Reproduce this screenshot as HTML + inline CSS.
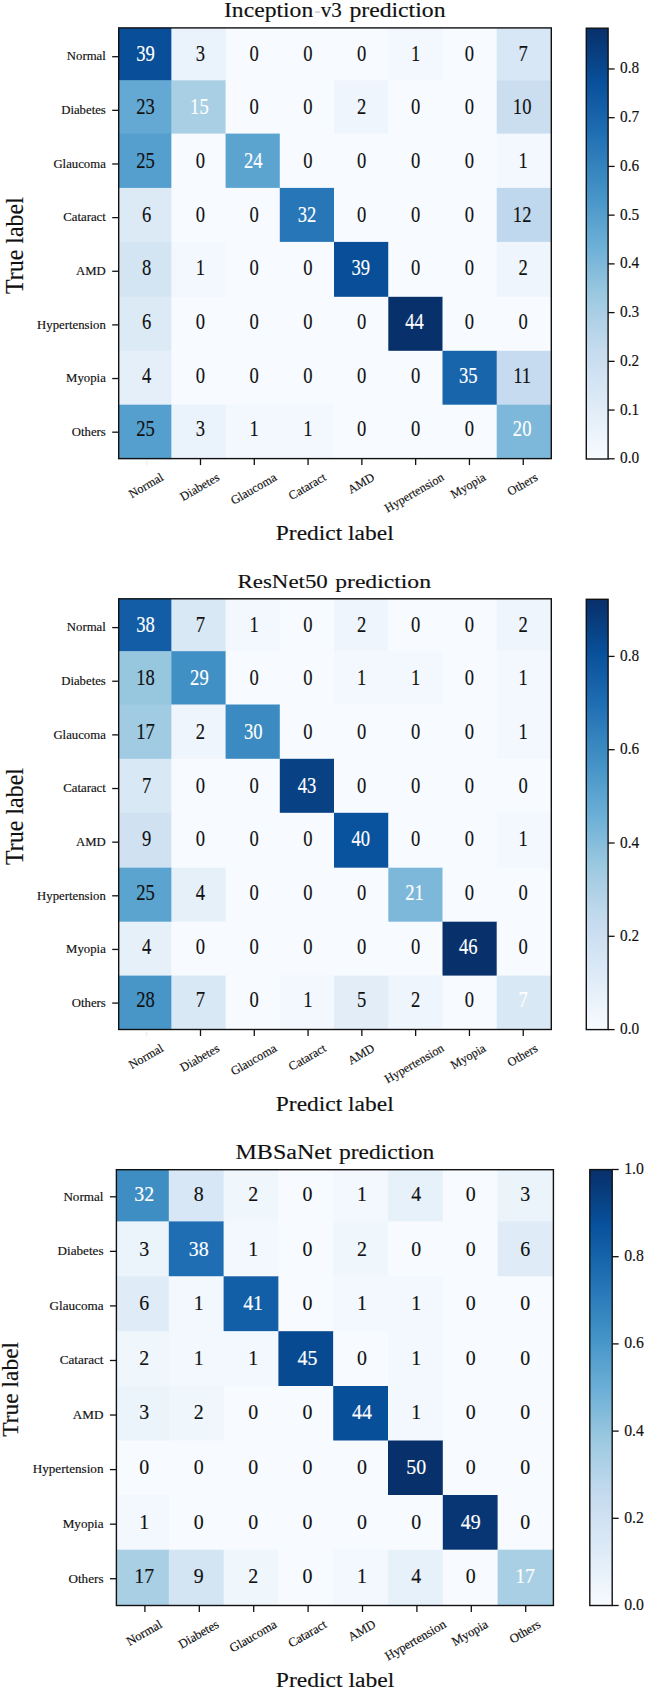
<!DOCTYPE html>
<html lang="en"><head><meta charset="utf-8"><title>Confusion matrices</title>
<style>html,body{margin:0;padding:0;background:#fff}svg{display:block}</style>
</head><body>
<svg width="645" height="1690" viewBox="0 0 645 1690" font-family="'Liberation Serif','Times New Roman',serif">
<defs>
<linearGradient id="cbg" x1="0" y1="0" x2="0" y2="1"><stop offset="0.0000" stop-color="#08306b"/><stop offset="0.0312" stop-color="#083776"/><stop offset="0.0625" stop-color="#084082"/><stop offset="0.0938" stop-color="#08488e"/><stop offset="0.1250" stop-color="#08509b"/><stop offset="0.1562" stop-color="#0e58a2"/><stop offset="0.1875" stop-color="#1460a8"/><stop offset="0.2188" stop-color="#1a68ae"/><stop offset="0.2500" stop-color="#2070b4"/><stop offset="0.2812" stop-color="#2979b9"/><stop offset="0.3125" stop-color="#3181bd"/><stop offset="0.3438" stop-color="#3989c1"/><stop offset="0.3750" stop-color="#4191c6"/><stop offset="0.4062" stop-color="#4b98ca"/><stop offset="0.4375" stop-color="#56a0ce"/><stop offset="0.4688" stop-color="#60a7d2"/><stop offset="0.5000" stop-color="#6aaed6"/><stop offset="0.5312" stop-color="#77b5d9"/><stop offset="0.5625" stop-color="#84bcdb"/><stop offset="0.5938" stop-color="#91c3de"/><stop offset="0.6250" stop-color="#9dcae1"/><stop offset="0.6562" stop-color="#a8cee4"/><stop offset="0.6875" stop-color="#b2d2e8"/><stop offset="0.7188" stop-color="#bcd7eb"/><stop offset="0.7500" stop-color="#c6dbef"/><stop offset="0.7812" stop-color="#ccdff1"/><stop offset="0.8125" stop-color="#d2e3f3"/><stop offset="0.8438" stop-color="#d8e7f5"/><stop offset="0.8750" stop-color="#deebf7"/><stop offset="0.9062" stop-color="#e4eff9"/><stop offset="0.9375" stop-color="#eaf3fb"/><stop offset="0.9688" stop-color="#f1f7fd"/><stop offset="1.0000" stop-color="#f7fbff"/></linearGradient>
</defs>
<rect width="645" height="1690" fill="#fff"/>
<g>
<rect x="118.70" y="27.90" width="53.20" height="52.90" fill="#084e98"/>
<rect x="171.40" y="27.90" width="54.70" height="52.90" fill="#eaf2fb"/>
<rect x="225.60" y="27.90" width="54.70" height="52.90" fill="#f7fbff"/>
<rect x="279.80" y="27.90" width="54.70" height="52.90" fill="#f7fbff"/>
<rect x="334.00" y="27.90" width="54.80" height="52.90" fill="#f7fbff"/>
<rect x="388.30" y="27.90" width="54.70" height="52.90" fill="#f3f8fe"/>
<rect x="442.50" y="27.90" width="54.70" height="52.90" fill="#f7fbff"/>
<rect x="496.70" y="27.90" width="55.10" height="52.90" fill="#d8e7f5"/>
<rect x="118.70" y="80.30" width="53.20" height="53.80" fill="#64a9d3"/>
<rect x="171.40" y="80.30" width="54.70" height="53.80" fill="#a9cfe5"/>
<rect x="225.60" y="80.30" width="54.70" height="53.80" fill="#f7fbff"/>
<rect x="279.80" y="80.30" width="54.70" height="53.80" fill="#f7fbff"/>
<rect x="334.00" y="80.30" width="54.80" height="53.80" fill="#eef5fc"/>
<rect x="388.30" y="80.30" width="54.70" height="53.80" fill="#f7fbff"/>
<rect x="442.50" y="80.30" width="54.70" height="53.80" fill="#f7fbff"/>
<rect x="496.70" y="80.30" width="55.10" height="53.80" fill="#cadef0"/>
<rect x="118.70" y="133.60" width="53.20" height="54.80" fill="#549fcd"/>
<rect x="171.40" y="133.60" width="54.70" height="54.80" fill="#f7fbff"/>
<rect x="225.60" y="133.60" width="54.70" height="54.80" fill="#5ca4d0"/>
<rect x="279.80" y="133.60" width="54.70" height="54.80" fill="#f7fbff"/>
<rect x="334.00" y="133.60" width="54.80" height="54.80" fill="#f7fbff"/>
<rect x="388.30" y="133.60" width="54.70" height="54.80" fill="#f7fbff"/>
<rect x="442.50" y="133.60" width="54.70" height="54.80" fill="#f7fbff"/>
<rect x="496.70" y="133.60" width="55.10" height="54.80" fill="#f3f8fe"/>
<rect x="118.70" y="187.90" width="53.20" height="54.50" fill="#dceaf6"/>
<rect x="171.40" y="187.90" width="54.70" height="54.50" fill="#f7fbff"/>
<rect x="225.60" y="187.90" width="54.70" height="54.50" fill="#f7fbff"/>
<rect x="279.80" y="187.90" width="54.70" height="54.50" fill="#2676b8"/>
<rect x="334.00" y="187.90" width="54.80" height="54.50" fill="#f7fbff"/>
<rect x="388.30" y="187.90" width="54.70" height="54.50" fill="#f7fbff"/>
<rect x="442.50" y="187.90" width="54.70" height="54.50" fill="#f7fbff"/>
<rect x="496.70" y="187.90" width="55.10" height="54.50" fill="#bfd8ed"/>
<rect x="118.70" y="241.90" width="53.20" height="55.40" fill="#d3e4f3"/>
<rect x="171.40" y="241.90" width="54.70" height="55.40" fill="#f3f8fe"/>
<rect x="225.60" y="241.90" width="54.70" height="55.40" fill="#f7fbff"/>
<rect x="279.80" y="241.90" width="54.70" height="55.40" fill="#f7fbff"/>
<rect x="334.00" y="241.90" width="54.80" height="55.40" fill="#084e98"/>
<rect x="388.30" y="241.90" width="54.70" height="55.40" fill="#f7fbff"/>
<rect x="442.50" y="241.90" width="54.70" height="55.40" fill="#f7fbff"/>
<rect x="496.70" y="241.90" width="55.10" height="55.40" fill="#eef5fc"/>
<rect x="118.70" y="296.80" width="53.20" height="54.50" fill="#dceaf6"/>
<rect x="171.40" y="296.80" width="54.70" height="54.50" fill="#f7fbff"/>
<rect x="225.60" y="296.80" width="54.70" height="54.50" fill="#f7fbff"/>
<rect x="279.80" y="296.80" width="54.70" height="54.50" fill="#f7fbff"/>
<rect x="334.00" y="296.80" width="54.80" height="54.50" fill="#f7fbff"/>
<rect x="388.30" y="296.80" width="54.70" height="54.50" fill="#08306b"/>
<rect x="442.50" y="296.80" width="54.70" height="54.50" fill="#f7fbff"/>
<rect x="496.70" y="296.80" width="55.10" height="54.50" fill="#f7fbff"/>
<rect x="118.70" y="350.80" width="53.20" height="54.40" fill="#e5eff9"/>
<rect x="171.40" y="350.80" width="54.70" height="54.40" fill="#f7fbff"/>
<rect x="225.60" y="350.80" width="54.70" height="54.40" fill="#f7fbff"/>
<rect x="279.80" y="350.80" width="54.70" height="54.40" fill="#f7fbff"/>
<rect x="334.00" y="350.80" width="54.80" height="54.40" fill="#f7fbff"/>
<rect x="388.30" y="350.80" width="54.70" height="54.40" fill="#f7fbff"/>
<rect x="442.50" y="350.80" width="54.70" height="54.40" fill="#1865ac"/>
<rect x="496.70" y="350.80" width="55.10" height="54.40" fill="#c6dbef"/>
<rect x="118.70" y="404.70" width="53.20" height="54.40" fill="#549fcd"/>
<rect x="171.40" y="404.70" width="54.70" height="54.40" fill="#eaf2fb"/>
<rect x="225.60" y="404.70" width="54.70" height="54.40" fill="#f3f8fe"/>
<rect x="279.80" y="404.70" width="54.70" height="54.40" fill="#f3f8fe"/>
<rect x="334.00" y="404.70" width="54.80" height="54.40" fill="#f7fbff"/>
<rect x="388.30" y="404.70" width="54.70" height="54.40" fill="#f7fbff"/>
<rect x="442.50" y="404.70" width="54.70" height="54.40" fill="#f7fbff"/>
<rect x="496.70" y="404.70" width="55.10" height="54.40" fill="#7db8da"/>
</g>
<rect x="118.70" y="27.90" width="432.60" height="430.70" fill="none" stroke="#111" stroke-width="1.40"/>
<text transform="translate(145.60,60.80) scale(0.8300,1)" font-size="22.40" fill="#fff" text-anchor="middle" stroke="#fff" stroke-width="0.15">39</text>
<text transform="translate(200.39,60.80) scale(0.8300,1)" font-size="22.40" fill="#111" text-anchor="middle" stroke="#111" stroke-width="0.15">3</text>
<text transform="translate(254.18,60.80) scale(0.8300,1)" font-size="22.40" fill="#111" text-anchor="middle" stroke="#111" stroke-width="0.15">0</text>
<text transform="translate(307.97,60.80) scale(0.8300,1)" font-size="22.40" fill="#111" text-anchor="middle" stroke="#111" stroke-width="0.15">0</text>
<text transform="translate(361.76,60.80) scale(0.8300,1)" font-size="22.40" fill="#111" text-anchor="middle" stroke="#111" stroke-width="0.15">0</text>
<text transform="translate(415.55,60.80) scale(0.8300,1)" font-size="22.40" fill="#111" text-anchor="middle" stroke="#111" stroke-width="0.15">1</text>
<text transform="translate(469.34,60.80) scale(0.8300,1)" font-size="22.40" fill="#111" text-anchor="middle" stroke="#111" stroke-width="0.15">0</text>
<text transform="translate(523.13,60.80) scale(0.8300,1)" font-size="22.40" fill="#111" text-anchor="middle" stroke="#111" stroke-width="0.15">7</text>
<text transform="translate(145.60,114.44) scale(0.8300,1)" font-size="22.40" fill="#111" text-anchor="middle" stroke="#111" stroke-width="0.15">23</text>
<text transform="translate(199.39,114.44) scale(0.8300,1)" font-size="22.40" fill="#fff" text-anchor="middle" stroke="#fff" stroke-width="0.15">15</text>
<text transform="translate(254.18,114.44) scale(0.8300,1)" font-size="22.40" fill="#111" text-anchor="middle" stroke="#111" stroke-width="0.15">0</text>
<text transform="translate(307.97,114.44) scale(0.8300,1)" font-size="22.40" fill="#111" text-anchor="middle" stroke="#111" stroke-width="0.15">0</text>
<text transform="translate(361.76,114.44) scale(0.8300,1)" font-size="22.40" fill="#111" text-anchor="middle" stroke="#111" stroke-width="0.15">2</text>
<text transform="translate(415.55,114.44) scale(0.8300,1)" font-size="22.40" fill="#111" text-anchor="middle" stroke="#111" stroke-width="0.15">0</text>
<text transform="translate(469.34,114.44) scale(0.8300,1)" font-size="22.40" fill="#111" text-anchor="middle" stroke="#111" stroke-width="0.15">0</text>
<text transform="translate(522.13,114.44) scale(0.8300,1)" font-size="22.40" fill="#111" text-anchor="middle" stroke="#111" stroke-width="0.15">10</text>
<text transform="translate(145.60,168.08) scale(0.8300,1)" font-size="22.40" fill="#111" text-anchor="middle" stroke="#111" stroke-width="0.15">25</text>
<text transform="translate(200.39,168.08) scale(0.8300,1)" font-size="22.40" fill="#111" text-anchor="middle" stroke="#111" stroke-width="0.15">0</text>
<text transform="translate(253.18,168.08) scale(0.8300,1)" font-size="22.40" fill="#fff" text-anchor="middle" stroke="#fff" stroke-width="0.15">24</text>
<text transform="translate(307.97,168.08) scale(0.8300,1)" font-size="22.40" fill="#111" text-anchor="middle" stroke="#111" stroke-width="0.15">0</text>
<text transform="translate(361.76,168.08) scale(0.8300,1)" font-size="22.40" fill="#111" text-anchor="middle" stroke="#111" stroke-width="0.15">0</text>
<text transform="translate(415.55,168.08) scale(0.8300,1)" font-size="22.40" fill="#111" text-anchor="middle" stroke="#111" stroke-width="0.15">0</text>
<text transform="translate(469.34,168.08) scale(0.8300,1)" font-size="22.40" fill="#111" text-anchor="middle" stroke="#111" stroke-width="0.15">0</text>
<text transform="translate(523.13,168.08) scale(0.8300,1)" font-size="22.40" fill="#111" text-anchor="middle" stroke="#111" stroke-width="0.15">1</text>
<text transform="translate(146.60,221.72) scale(0.8300,1)" font-size="22.40" fill="#111" text-anchor="middle" stroke="#111" stroke-width="0.15">6</text>
<text transform="translate(200.39,221.72) scale(0.8300,1)" font-size="22.40" fill="#111" text-anchor="middle" stroke="#111" stroke-width="0.15">0</text>
<text transform="translate(254.18,221.72) scale(0.8300,1)" font-size="22.40" fill="#111" text-anchor="middle" stroke="#111" stroke-width="0.15">0</text>
<text transform="translate(306.97,221.72) scale(0.8300,1)" font-size="22.40" fill="#fff" text-anchor="middle" stroke="#fff" stroke-width="0.15">32</text>
<text transform="translate(361.76,221.72) scale(0.8300,1)" font-size="22.40" fill="#111" text-anchor="middle" stroke="#111" stroke-width="0.15">0</text>
<text transform="translate(415.55,221.72) scale(0.8300,1)" font-size="22.40" fill="#111" text-anchor="middle" stroke="#111" stroke-width="0.15">0</text>
<text transform="translate(469.34,221.72) scale(0.8300,1)" font-size="22.40" fill="#111" text-anchor="middle" stroke="#111" stroke-width="0.15">0</text>
<text transform="translate(522.13,221.72) scale(0.8300,1)" font-size="22.40" fill="#111" text-anchor="middle" stroke="#111" stroke-width="0.15">12</text>
<text transform="translate(146.60,275.36) scale(0.8300,1)" font-size="22.40" fill="#111" text-anchor="middle" stroke="#111" stroke-width="0.15">8</text>
<text transform="translate(200.39,275.36) scale(0.8300,1)" font-size="22.40" fill="#111" text-anchor="middle" stroke="#111" stroke-width="0.15">1</text>
<text transform="translate(254.18,275.36) scale(0.8300,1)" font-size="22.40" fill="#111" text-anchor="middle" stroke="#111" stroke-width="0.15">0</text>
<text transform="translate(307.97,275.36) scale(0.8300,1)" font-size="22.40" fill="#111" text-anchor="middle" stroke="#111" stroke-width="0.15">0</text>
<text transform="translate(360.76,275.36) scale(0.8300,1)" font-size="22.40" fill="#fff" text-anchor="middle" stroke="#fff" stroke-width="0.15">39</text>
<text transform="translate(415.55,275.36) scale(0.8300,1)" font-size="22.40" fill="#111" text-anchor="middle" stroke="#111" stroke-width="0.15">0</text>
<text transform="translate(469.34,275.36) scale(0.8300,1)" font-size="22.40" fill="#111" text-anchor="middle" stroke="#111" stroke-width="0.15">0</text>
<text transform="translate(523.13,275.36) scale(0.8300,1)" font-size="22.40" fill="#111" text-anchor="middle" stroke="#111" stroke-width="0.15">2</text>
<text transform="translate(146.60,329.00) scale(0.8300,1)" font-size="22.40" fill="#111" text-anchor="middle" stroke="#111" stroke-width="0.15">6</text>
<text transform="translate(200.39,329.00) scale(0.8300,1)" font-size="22.40" fill="#111" text-anchor="middle" stroke="#111" stroke-width="0.15">0</text>
<text transform="translate(254.18,329.00) scale(0.8300,1)" font-size="22.40" fill="#111" text-anchor="middle" stroke="#111" stroke-width="0.15">0</text>
<text transform="translate(307.97,329.00) scale(0.8300,1)" font-size="22.40" fill="#111" text-anchor="middle" stroke="#111" stroke-width="0.15">0</text>
<text transform="translate(361.76,329.00) scale(0.8300,1)" font-size="22.40" fill="#111" text-anchor="middle" stroke="#111" stroke-width="0.15">0</text>
<text transform="translate(414.55,329.00) scale(0.8300,1)" font-size="22.40" fill="#fff" text-anchor="middle" stroke="#fff" stroke-width="0.15">44</text>
<text transform="translate(469.34,329.00) scale(0.8300,1)" font-size="22.40" fill="#111" text-anchor="middle" stroke="#111" stroke-width="0.15">0</text>
<text transform="translate(523.13,329.00) scale(0.8300,1)" font-size="22.40" fill="#111" text-anchor="middle" stroke="#111" stroke-width="0.15">0</text>
<text transform="translate(146.60,382.64) scale(0.8300,1)" font-size="22.40" fill="#111" text-anchor="middle" stroke="#111" stroke-width="0.15">4</text>
<text transform="translate(200.39,382.64) scale(0.8300,1)" font-size="22.40" fill="#111" text-anchor="middle" stroke="#111" stroke-width="0.15">0</text>
<text transform="translate(254.18,382.64) scale(0.8300,1)" font-size="22.40" fill="#111" text-anchor="middle" stroke="#111" stroke-width="0.15">0</text>
<text transform="translate(307.97,382.64) scale(0.8300,1)" font-size="22.40" fill="#111" text-anchor="middle" stroke="#111" stroke-width="0.15">0</text>
<text transform="translate(361.76,382.64) scale(0.8300,1)" font-size="22.40" fill="#111" text-anchor="middle" stroke="#111" stroke-width="0.15">0</text>
<text transform="translate(415.55,382.64) scale(0.8300,1)" font-size="22.40" fill="#111" text-anchor="middle" stroke="#111" stroke-width="0.15">0</text>
<text transform="translate(468.34,382.64) scale(0.8300,1)" font-size="22.40" fill="#fff" text-anchor="middle" stroke="#fff" stroke-width="0.15">35</text>
<text transform="translate(522.13,382.64) scale(0.8300,1)" font-size="22.40" fill="#111" text-anchor="middle" stroke="#111" stroke-width="0.15">11</text>
<text transform="translate(145.60,436.28) scale(0.8300,1)" font-size="22.40" fill="#111" text-anchor="middle" stroke="#111" stroke-width="0.15">25</text>
<text transform="translate(200.39,436.28) scale(0.8300,1)" font-size="22.40" fill="#111" text-anchor="middle" stroke="#111" stroke-width="0.15">3</text>
<text transform="translate(254.18,436.28) scale(0.8300,1)" font-size="22.40" fill="#111" text-anchor="middle" stroke="#111" stroke-width="0.15">1</text>
<text transform="translate(307.97,436.28) scale(0.8300,1)" font-size="22.40" fill="#111" text-anchor="middle" stroke="#111" stroke-width="0.15">1</text>
<text transform="translate(361.76,436.28) scale(0.8300,1)" font-size="22.40" fill="#111" text-anchor="middle" stroke="#111" stroke-width="0.15">0</text>
<text transform="translate(415.55,436.28) scale(0.8300,1)" font-size="22.40" fill="#111" text-anchor="middle" stroke="#111" stroke-width="0.15">0</text>
<text transform="translate(469.34,436.28) scale(0.8300,1)" font-size="22.40" fill="#111" text-anchor="middle" stroke="#111" stroke-width="0.15">0</text>
<text transform="translate(522.13,436.28) scale(0.8300,1)" font-size="22.40" fill="#fff" text-anchor="middle" stroke="#fff" stroke-width="0.15">20</text>
<line x1="146.70" y1="461.10" x2="146.70" y2="465.10" stroke="#ececec" stroke-width="1.3"/>
<line x1="112.20" y1="56.70" x2="118.70" y2="56.70" stroke="#111" stroke-width="1.30"/>
<text transform="translate(105.80,60.48) scale(1.1000,1)" font-size="11.60" fill="#111" text-anchor="end" stroke="#111" stroke-width="0.15">Normal</text>
<g transform="translate(145.90,485.51) scale(1,1.000) rotate(-30)"><text y="4.06" font-size="12.30" text-anchor="middle" fill="#111" stroke="#111" stroke-width="0.15">Normal</text></g>
<line x1="200.49" y1="458.60" x2="200.49" y2="465.10" stroke="#111" stroke-width="1.30"/>
<line x1="112.20" y1="110.34" x2="118.70" y2="110.34" stroke="#111" stroke-width="1.30"/>
<text transform="translate(105.80,114.12) scale(1.1000,1)" font-size="11.60" fill="#111" text-anchor="end" stroke="#111" stroke-width="0.15">Diabetes</text>
<g transform="translate(199.69,486.88) scale(1,1.000) rotate(-30)"><text y="4.06" font-size="12.30" text-anchor="middle" fill="#111" stroke="#111" stroke-width="0.15">Diabetes</text></g>
<line x1="254.28" y1="458.60" x2="254.28" y2="465.10" stroke="#111" stroke-width="1.30"/>
<line x1="112.20" y1="163.98" x2="118.70" y2="163.98" stroke="#111" stroke-width="1.30"/>
<text transform="translate(105.80,167.76) scale(1.1000,1)" font-size="11.60" fill="#111" text-anchor="end" stroke="#111" stroke-width="0.15">Glaucoma</text>
<g transform="translate(253.48,488.76) scale(1,1.000) rotate(-30)"><text y="4.06" font-size="12.30" text-anchor="middle" fill="#111" stroke="#111" stroke-width="0.15">Glaucoma</text></g>
<line x1="308.07" y1="458.60" x2="308.07" y2="465.10" stroke="#111" stroke-width="1.30"/>
<line x1="112.20" y1="217.62" x2="118.70" y2="217.62" stroke="#111" stroke-width="1.30"/>
<text transform="translate(105.80,221.40) scale(1.1000,1)" font-size="11.60" fill="#111" text-anchor="end" stroke="#111" stroke-width="0.15">Cataract</text>
<g transform="translate(307.27,486.37) scale(1,1.000) rotate(-30)"><text y="4.06" font-size="12.30" text-anchor="middle" fill="#111" stroke="#111" stroke-width="0.15">Cataract</text></g>
<line x1="361.86" y1="458.60" x2="361.86" y2="465.10" stroke="#111" stroke-width="1.30"/>
<line x1="112.20" y1="271.26" x2="118.70" y2="271.26" stroke="#111" stroke-width="1.30"/>
<text transform="translate(105.80,275.04) scale(1.1000,1)" font-size="11.60" fill="#111" text-anchor="end" stroke="#111" stroke-width="0.15">AMD</text>
<g transform="translate(361.06,483.30) scale(1,1.000) rotate(-30)"><text y="4.06" font-size="12.30" text-anchor="middle" fill="#111" stroke="#111" stroke-width="0.15">AMD</text></g>
<line x1="415.65" y1="458.60" x2="415.65" y2="465.10" stroke="#111" stroke-width="1.30"/>
<line x1="112.20" y1="324.90" x2="118.70" y2="324.90" stroke="#111" stroke-width="1.30"/>
<text transform="translate(105.80,328.68) scale(1.1000,1)" font-size="11.60" fill="#111" text-anchor="end" stroke="#111" stroke-width="0.15">Hypertension</text>
<g transform="translate(414.85,493.75) scale(1,1.000) rotate(-30)"><text y="2.71" font-size="12.30" text-anchor="middle" fill="#111" stroke="#111" stroke-width="0.15">Hypertension</text></g>
<line x1="469.44" y1="458.60" x2="469.44" y2="465.10" stroke="#111" stroke-width="1.30"/>
<line x1="112.20" y1="378.54" x2="118.70" y2="378.54" stroke="#111" stroke-width="1.30"/>
<text transform="translate(105.80,382.32) scale(1.1000,1)" font-size="11.60" fill="#111" text-anchor="end" stroke="#111" stroke-width="0.15">Myopia</text>
<g transform="translate(468.64,486.75) scale(1,1.000) rotate(-30)"><text y="2.71" font-size="12.30" text-anchor="middle" fill="#111" stroke="#111" stroke-width="0.15">Myopia</text></g>
<line x1="523.23" y1="458.60" x2="523.23" y2="465.10" stroke="#111" stroke-width="1.30"/>
<line x1="112.20" y1="432.18" x2="118.70" y2="432.18" stroke="#111" stroke-width="1.30"/>
<text transform="translate(105.80,435.96) scale(1.1000,1)" font-size="11.60" fill="#111" text-anchor="end" stroke="#111" stroke-width="0.15">Others</text>
<g transform="translate(522.43,484.32) scale(1,1.000) rotate(-30)"><text y="4.06" font-size="12.30" text-anchor="middle" fill="#111" stroke="#111" stroke-width="0.15">Others</text></g>
<text transform="translate(224.00,17.20)" font-size="20.00" fill="#111" stroke="#111" stroke-width="0.15" textLength="89.20" lengthAdjust="spacingAndGlyphs">Inception</text>
<text transform="translate(314.60,17.20)" font-size="20.00" fill="#cfcfcf" textLength="6.00" lengthAdjust="spacingAndGlyphs">-</text>
<text transform="translate(320.80,17.20)" font-size="20.00" fill="#111" stroke="#111" stroke-width="0.15" textLength="21.00" lengthAdjust="spacingAndGlyphs">v3</text>
<text transform="translate(349.40,17.20)" font-size="20.00" fill="#111" stroke="#111" stroke-width="0.15" textLength="96.10" lengthAdjust="spacingAndGlyphs">prediction</text>
<text transform="translate(275.80,540.20)" font-size="20.00" fill="#111" stroke="#111" stroke-width="0.15" textLength="117.90" lengthAdjust="spacingAndGlyphs">Predict label</text>
<text transform="translate(23.30,294.00) rotate(-90)" font-size="25.00" fill="#111" stroke="#111" stroke-width="0.15" textLength="96.80" lengthAdjust="spacingAndGlyphs">True label</text>
<rect x="586.30" y="28.20" width="21.80" height="430.80" fill="url(#cbg)" stroke="#111" stroke-width="1.40"/>
<line x1="608.10" y1="458.80" x2="614.60" y2="458.80" stroke="#111" stroke-width="1.30"/>
<text transform="translate(620.10,463.30) scale(0.9700,1)" font-size="15.80" fill="#111" stroke="#111" stroke-width="0.15">0.0</text>
<line x1="608.10" y1="410.07" x2="614.60" y2="410.07" stroke="#111" stroke-width="1.30"/>
<text transform="translate(620.10,414.57) scale(0.9700,1)" font-size="15.80" fill="#111" stroke="#111" stroke-width="0.15">0.1</text>
<line x1="608.10" y1="361.34" x2="614.60" y2="361.34" stroke="#111" stroke-width="1.30"/>
<text transform="translate(620.10,365.84) scale(0.9700,1)" font-size="15.80" fill="#111" stroke="#111" stroke-width="0.15">0.2</text>
<line x1="608.10" y1="312.61" x2="614.60" y2="312.61" stroke="#111" stroke-width="1.30"/>
<text transform="translate(620.10,317.11) scale(0.9700,1)" font-size="15.80" fill="#111" stroke="#111" stroke-width="0.15">0.3</text>
<line x1="608.10" y1="263.88" x2="614.60" y2="263.88" stroke="#111" stroke-width="1.30"/>
<text transform="translate(620.10,268.38) scale(0.9700,1)" font-size="15.80" fill="#111" stroke="#111" stroke-width="0.15">0.4</text>
<line x1="608.10" y1="215.15" x2="614.60" y2="215.15" stroke="#111" stroke-width="1.30"/>
<text transform="translate(620.10,219.65) scale(0.9700,1)" font-size="15.80" fill="#111" stroke="#111" stroke-width="0.15">0.5</text>
<line x1="608.10" y1="166.42" x2="614.60" y2="166.42" stroke="#111" stroke-width="1.30"/>
<text transform="translate(620.10,170.92) scale(0.9700,1)" font-size="15.80" fill="#111" stroke="#111" stroke-width="0.15">0.6</text>
<line x1="608.10" y1="117.69" x2="614.60" y2="117.69" stroke="#111" stroke-width="1.30"/>
<text transform="translate(620.10,122.19) scale(0.9700,1)" font-size="15.80" fill="#111" stroke="#111" stroke-width="0.15">0.7</text>
<line x1="608.10" y1="68.96" x2="614.60" y2="68.96" stroke="#111" stroke-width="1.30"/>
<text transform="translate(620.10,73.46) scale(0.9700,1)" font-size="15.80" fill="#111" stroke="#111" stroke-width="0.15">0.8</text>
<g>
<rect x="118.70" y="598.80" width="53.20" height="52.90" fill="#125da6"/>
<rect x="171.40" y="598.80" width="54.70" height="52.90" fill="#d9e8f5"/>
<rect x="225.60" y="598.80" width="54.70" height="52.90" fill="#f3f8fe"/>
<rect x="279.80" y="598.80" width="54.70" height="52.90" fill="#f7fbff"/>
<rect x="334.00" y="598.80" width="54.80" height="52.90" fill="#eef5fc"/>
<rect x="388.30" y="598.80" width="54.70" height="52.90" fill="#f7fbff"/>
<rect x="442.50" y="598.80" width="54.70" height="52.90" fill="#f7fbff"/>
<rect x="496.70" y="598.80" width="55.10" height="52.90" fill="#eef5fc"/>
<rect x="118.70" y="651.20" width="53.20" height="53.80" fill="#97c6df"/>
<rect x="171.40" y="651.20" width="54.70" height="53.80" fill="#4090c5"/>
<rect x="225.60" y="651.20" width="54.70" height="53.80" fill="#f7fbff"/>
<rect x="279.80" y="651.20" width="54.70" height="53.80" fill="#f7fbff"/>
<rect x="334.00" y="651.20" width="54.80" height="53.80" fill="#f3f8fe"/>
<rect x="388.30" y="651.20" width="54.70" height="53.80" fill="#f3f8fe"/>
<rect x="442.50" y="651.20" width="54.70" height="53.80" fill="#f7fbff"/>
<rect x="496.70" y="651.20" width="55.10" height="53.80" fill="#f3f8fe"/>
<rect x="118.70" y="704.50" width="53.20" height="54.80" fill="#a0cbe2"/>
<rect x="171.40" y="704.50" width="54.70" height="54.80" fill="#eef5fc"/>
<rect x="225.60" y="704.50" width="54.70" height="54.80" fill="#3b8bc2"/>
<rect x="279.80" y="704.50" width="54.70" height="54.80" fill="#f7fbff"/>
<rect x="334.00" y="704.50" width="54.80" height="54.80" fill="#f7fbff"/>
<rect x="388.30" y="704.50" width="54.70" height="54.80" fill="#f7fbff"/>
<rect x="442.50" y="704.50" width="54.70" height="54.80" fill="#f7fbff"/>
<rect x="496.70" y="704.50" width="55.10" height="54.80" fill="#f3f8fe"/>
<rect x="118.70" y="758.80" width="53.20" height="54.50" fill="#d9e8f5"/>
<rect x="171.40" y="758.80" width="54.70" height="54.50" fill="#f7fbff"/>
<rect x="225.60" y="758.80" width="54.70" height="54.50" fill="#f7fbff"/>
<rect x="279.80" y="758.80" width="54.70" height="54.50" fill="#084184"/>
<rect x="334.00" y="758.80" width="54.80" height="54.50" fill="#f7fbff"/>
<rect x="388.30" y="758.80" width="54.70" height="54.50" fill="#f7fbff"/>
<rect x="442.50" y="758.80" width="54.70" height="54.50" fill="#f7fbff"/>
<rect x="496.70" y="758.80" width="55.10" height="54.50" fill="#f7fbff"/>
<rect x="118.70" y="812.80" width="53.20" height="55.40" fill="#d0e2f2"/>
<rect x="171.40" y="812.80" width="54.70" height="55.40" fill="#f7fbff"/>
<rect x="225.60" y="812.80" width="54.70" height="55.40" fill="#f7fbff"/>
<rect x="279.80" y="812.80" width="54.70" height="55.40" fill="#f7fbff"/>
<rect x="334.00" y="812.80" width="54.80" height="55.40" fill="#09529d"/>
<rect x="388.30" y="812.80" width="54.70" height="55.40" fill="#f7fbff"/>
<rect x="442.50" y="812.80" width="54.70" height="55.40" fill="#f7fbff"/>
<rect x="496.70" y="812.80" width="55.10" height="55.40" fill="#f3f8fe"/>
<rect x="118.70" y="867.70" width="53.20" height="54.50" fill="#5ca4d0"/>
<rect x="171.40" y="867.70" width="54.70" height="54.50" fill="#e6f0f9"/>
<rect x="225.60" y="867.70" width="54.70" height="54.50" fill="#f7fbff"/>
<rect x="279.80" y="867.70" width="54.70" height="54.50" fill="#f7fbff"/>
<rect x="334.00" y="867.70" width="54.80" height="54.50" fill="#f7fbff"/>
<rect x="388.30" y="867.70" width="54.70" height="54.50" fill="#7db8da"/>
<rect x="442.50" y="867.70" width="54.70" height="54.50" fill="#f7fbff"/>
<rect x="496.70" y="867.70" width="55.10" height="54.50" fill="#f7fbff"/>
<rect x="118.70" y="921.70" width="53.20" height="54.40" fill="#e6f0f9"/>
<rect x="171.40" y="921.70" width="54.70" height="54.40" fill="#f7fbff"/>
<rect x="225.60" y="921.70" width="54.70" height="54.40" fill="#f7fbff"/>
<rect x="279.80" y="921.70" width="54.70" height="54.40" fill="#f7fbff"/>
<rect x="334.00" y="921.70" width="54.80" height="54.40" fill="#f7fbff"/>
<rect x="388.30" y="921.70" width="54.70" height="54.40" fill="#f7fbff"/>
<rect x="442.50" y="921.70" width="54.70" height="54.40" fill="#08306b"/>
<rect x="496.70" y="921.70" width="55.10" height="54.40" fill="#f7fbff"/>
<rect x="118.70" y="975.60" width="53.20" height="54.40" fill="#4896c8"/>
<rect x="171.40" y="975.60" width="54.70" height="54.40" fill="#d9e8f5"/>
<rect x="225.60" y="975.60" width="54.70" height="54.40" fill="#f7fbff"/>
<rect x="279.80" y="975.60" width="54.70" height="54.40" fill="#f3f8fe"/>
<rect x="334.00" y="975.60" width="54.80" height="54.40" fill="#e2edf8"/>
<rect x="388.30" y="975.60" width="54.70" height="54.40" fill="#eef5fc"/>
<rect x="442.50" y="975.60" width="54.70" height="54.40" fill="#f7fbff"/>
<rect x="496.70" y="975.60" width="55.10" height="54.40" fill="#d9e8f5"/>
</g>
<rect x="118.70" y="598.80" width="432.60" height="430.70" fill="none" stroke="#111" stroke-width="1.40"/>
<text transform="translate(145.60,631.70) scale(0.8300,1)" font-size="22.40" fill="#fff" text-anchor="middle" stroke="#fff" stroke-width="0.15">38</text>
<text transform="translate(200.39,631.70) scale(0.8300,1)" font-size="22.40" fill="#111" text-anchor="middle" stroke="#111" stroke-width="0.15">7</text>
<text transform="translate(254.18,631.70) scale(0.8300,1)" font-size="22.40" fill="#111" text-anchor="middle" stroke="#111" stroke-width="0.15">1</text>
<text transform="translate(307.97,631.70) scale(0.8300,1)" font-size="22.40" fill="#111" text-anchor="middle" stroke="#111" stroke-width="0.15">0</text>
<text transform="translate(361.76,631.70) scale(0.8300,1)" font-size="22.40" fill="#111" text-anchor="middle" stroke="#111" stroke-width="0.15">2</text>
<text transform="translate(415.55,631.70) scale(0.8300,1)" font-size="22.40" fill="#111" text-anchor="middle" stroke="#111" stroke-width="0.15">0</text>
<text transform="translate(469.34,631.70) scale(0.8300,1)" font-size="22.40" fill="#111" text-anchor="middle" stroke="#111" stroke-width="0.15">0</text>
<text transform="translate(523.13,631.70) scale(0.8300,1)" font-size="22.40" fill="#111" text-anchor="middle" stroke="#111" stroke-width="0.15">2</text>
<text transform="translate(145.60,685.34) scale(0.8300,1)" font-size="22.40" fill="#111" text-anchor="middle" stroke="#111" stroke-width="0.15">18</text>
<text transform="translate(199.39,685.34) scale(0.8300,1)" font-size="22.40" fill="#fff" text-anchor="middle" stroke="#fff" stroke-width="0.15">29</text>
<text transform="translate(254.18,685.34) scale(0.8300,1)" font-size="22.40" fill="#111" text-anchor="middle" stroke="#111" stroke-width="0.15">0</text>
<text transform="translate(307.97,685.34) scale(0.8300,1)" font-size="22.40" fill="#111" text-anchor="middle" stroke="#111" stroke-width="0.15">0</text>
<text transform="translate(361.76,685.34) scale(0.8300,1)" font-size="22.40" fill="#111" text-anchor="middle" stroke="#111" stroke-width="0.15">1</text>
<text transform="translate(415.55,685.34) scale(0.8300,1)" font-size="22.40" fill="#111" text-anchor="middle" stroke="#111" stroke-width="0.15">1</text>
<text transform="translate(469.34,685.34) scale(0.8300,1)" font-size="22.40" fill="#111" text-anchor="middle" stroke="#111" stroke-width="0.15">0</text>
<text transform="translate(523.13,685.34) scale(0.8300,1)" font-size="22.40" fill="#111" text-anchor="middle" stroke="#111" stroke-width="0.15">1</text>
<text transform="translate(145.60,738.98) scale(0.8300,1)" font-size="22.40" fill="#111" text-anchor="middle" stroke="#111" stroke-width="0.15">17</text>
<text transform="translate(200.39,738.98) scale(0.8300,1)" font-size="22.40" fill="#111" text-anchor="middle" stroke="#111" stroke-width="0.15">2</text>
<text transform="translate(253.18,738.98) scale(0.8300,1)" font-size="22.40" fill="#fff" text-anchor="middle" stroke="#fff" stroke-width="0.15">30</text>
<text transform="translate(307.97,738.98) scale(0.8300,1)" font-size="22.40" fill="#111" text-anchor="middle" stroke="#111" stroke-width="0.15">0</text>
<text transform="translate(361.76,738.98) scale(0.8300,1)" font-size="22.40" fill="#111" text-anchor="middle" stroke="#111" stroke-width="0.15">0</text>
<text transform="translate(415.55,738.98) scale(0.8300,1)" font-size="22.40" fill="#111" text-anchor="middle" stroke="#111" stroke-width="0.15">0</text>
<text transform="translate(469.34,738.98) scale(0.8300,1)" font-size="22.40" fill="#111" text-anchor="middle" stroke="#111" stroke-width="0.15">0</text>
<text transform="translate(523.13,738.98) scale(0.8300,1)" font-size="22.40" fill="#111" text-anchor="middle" stroke="#111" stroke-width="0.15">1</text>
<text transform="translate(146.60,792.62) scale(0.8300,1)" font-size="22.40" fill="#111" text-anchor="middle" stroke="#111" stroke-width="0.15">7</text>
<text transform="translate(200.39,792.62) scale(0.8300,1)" font-size="22.40" fill="#111" text-anchor="middle" stroke="#111" stroke-width="0.15">0</text>
<text transform="translate(254.18,792.62) scale(0.8300,1)" font-size="22.40" fill="#111" text-anchor="middle" stroke="#111" stroke-width="0.15">0</text>
<text transform="translate(306.97,792.62) scale(0.8300,1)" font-size="22.40" fill="#fff" text-anchor="middle" stroke="#fff" stroke-width="0.15">43</text>
<text transform="translate(361.76,792.62) scale(0.8300,1)" font-size="22.40" fill="#111" text-anchor="middle" stroke="#111" stroke-width="0.15">0</text>
<text transform="translate(415.55,792.62) scale(0.8300,1)" font-size="22.40" fill="#111" text-anchor="middle" stroke="#111" stroke-width="0.15">0</text>
<text transform="translate(469.34,792.62) scale(0.8300,1)" font-size="22.40" fill="#111" text-anchor="middle" stroke="#111" stroke-width="0.15">0</text>
<text transform="translate(523.13,792.62) scale(0.8300,1)" font-size="22.40" fill="#111" text-anchor="middle" stroke="#111" stroke-width="0.15">0</text>
<text transform="translate(146.60,846.26) scale(0.8300,1)" font-size="22.40" fill="#111" text-anchor="middle" stroke="#111" stroke-width="0.15">9</text>
<text transform="translate(200.39,846.26) scale(0.8300,1)" font-size="22.40" fill="#111" text-anchor="middle" stroke="#111" stroke-width="0.15">0</text>
<text transform="translate(254.18,846.26) scale(0.8300,1)" font-size="22.40" fill="#111" text-anchor="middle" stroke="#111" stroke-width="0.15">0</text>
<text transform="translate(307.97,846.26) scale(0.8300,1)" font-size="22.40" fill="#111" text-anchor="middle" stroke="#111" stroke-width="0.15">0</text>
<text transform="translate(360.76,846.26) scale(0.8300,1)" font-size="22.40" fill="#fff" text-anchor="middle" stroke="#fff" stroke-width="0.15">40</text>
<text transform="translate(415.55,846.26) scale(0.8300,1)" font-size="22.40" fill="#111" text-anchor="middle" stroke="#111" stroke-width="0.15">0</text>
<text transform="translate(469.34,846.26) scale(0.8300,1)" font-size="22.40" fill="#111" text-anchor="middle" stroke="#111" stroke-width="0.15">0</text>
<text transform="translate(523.13,846.26) scale(0.8300,1)" font-size="22.40" fill="#111" text-anchor="middle" stroke="#111" stroke-width="0.15">1</text>
<text transform="translate(145.60,899.90) scale(0.8300,1)" font-size="22.40" fill="#111" text-anchor="middle" stroke="#111" stroke-width="0.15">25</text>
<text transform="translate(200.39,899.90) scale(0.8300,1)" font-size="22.40" fill="#111" text-anchor="middle" stroke="#111" stroke-width="0.15">4</text>
<text transform="translate(254.18,899.90) scale(0.8300,1)" font-size="22.40" fill="#111" text-anchor="middle" stroke="#111" stroke-width="0.15">0</text>
<text transform="translate(307.97,899.90) scale(0.8300,1)" font-size="22.40" fill="#111" text-anchor="middle" stroke="#111" stroke-width="0.15">0</text>
<text transform="translate(361.76,899.90) scale(0.8300,1)" font-size="22.40" fill="#111" text-anchor="middle" stroke="#111" stroke-width="0.15">0</text>
<text transform="translate(414.55,899.90) scale(0.8300,1)" font-size="22.40" fill="#fff" text-anchor="middle" stroke="#fff" stroke-width="0.15">21</text>
<text transform="translate(469.34,899.90) scale(0.8300,1)" font-size="22.40" fill="#111" text-anchor="middle" stroke="#111" stroke-width="0.15">0</text>
<text transform="translate(523.13,899.90) scale(0.8300,1)" font-size="22.40" fill="#111" text-anchor="middle" stroke="#111" stroke-width="0.15">0</text>
<text transform="translate(146.60,953.54) scale(0.8300,1)" font-size="22.40" fill="#111" text-anchor="middle" stroke="#111" stroke-width="0.15">4</text>
<text transform="translate(200.39,953.54) scale(0.8300,1)" font-size="22.40" fill="#111" text-anchor="middle" stroke="#111" stroke-width="0.15">0</text>
<text transform="translate(254.18,953.54) scale(0.8300,1)" font-size="22.40" fill="#111" text-anchor="middle" stroke="#111" stroke-width="0.15">0</text>
<text transform="translate(307.97,953.54) scale(0.8300,1)" font-size="22.40" fill="#111" text-anchor="middle" stroke="#111" stroke-width="0.15">0</text>
<text transform="translate(361.76,953.54) scale(0.8300,1)" font-size="22.40" fill="#111" text-anchor="middle" stroke="#111" stroke-width="0.15">0</text>
<text transform="translate(415.55,953.54) scale(0.8300,1)" font-size="22.40" fill="#111" text-anchor="middle" stroke="#111" stroke-width="0.15">0</text>
<text transform="translate(468.34,953.54) scale(0.8300,1)" font-size="22.40" fill="#fff" text-anchor="middle" stroke="#fff" stroke-width="0.15">46</text>
<text transform="translate(523.13,953.54) scale(0.8300,1)" font-size="22.40" fill="#111" text-anchor="middle" stroke="#111" stroke-width="0.15">0</text>
<text transform="translate(145.60,1007.18) scale(0.8300,1)" font-size="22.40" fill="#111" text-anchor="middle" stroke="#111" stroke-width="0.15">28</text>
<text transform="translate(200.39,1007.18) scale(0.8300,1)" font-size="22.40" fill="#111" text-anchor="middle" stroke="#111" stroke-width="0.15">7</text>
<text transform="translate(254.18,1007.18) scale(0.8300,1)" font-size="22.40" fill="#111" text-anchor="middle" stroke="#111" stroke-width="0.15">0</text>
<text transform="translate(307.97,1007.18) scale(0.8300,1)" font-size="22.40" fill="#111" text-anchor="middle" stroke="#111" stroke-width="0.15">1</text>
<text transform="translate(361.76,1007.18) scale(0.8300,1)" font-size="22.40" fill="#111" text-anchor="middle" stroke="#111" stroke-width="0.15">5</text>
<text transform="translate(415.55,1007.18) scale(0.8300,1)" font-size="22.40" fill="#111" text-anchor="middle" stroke="#111" stroke-width="0.15">2</text>
<text transform="translate(469.34,1007.18) scale(0.8300,1)" font-size="22.40" fill="#111" text-anchor="middle" stroke="#111" stroke-width="0.15">0</text>
<text transform="translate(523.13,1007.18) scale(0.8300,1)" font-size="22.40" fill="#fff" text-anchor="middle" stroke="#fff" stroke-width="0.15">7</text>
<line x1="146.70" y1="1032.00" x2="146.70" y2="1036.00" stroke="#ececec" stroke-width="1.3"/>
<line x1="112.20" y1="627.60" x2="118.70" y2="627.60" stroke="#111" stroke-width="1.30"/>
<text transform="translate(105.80,631.38) scale(1.1000,1)" font-size="11.60" fill="#111" text-anchor="end" stroke="#111" stroke-width="0.15">Normal</text>
<g transform="translate(145.90,1056.41) scale(1,1.000) rotate(-30)"><text y="4.06" font-size="12.30" text-anchor="middle" fill="#111" stroke="#111" stroke-width="0.15">Normal</text></g>
<line x1="200.49" y1="1029.50" x2="200.49" y2="1036.00" stroke="#111" stroke-width="1.30"/>
<line x1="112.20" y1="681.24" x2="118.70" y2="681.24" stroke="#111" stroke-width="1.30"/>
<text transform="translate(105.80,685.02) scale(1.1000,1)" font-size="11.60" fill="#111" text-anchor="end" stroke="#111" stroke-width="0.15">Diabetes</text>
<g transform="translate(199.69,1057.78) scale(1,1.000) rotate(-30)"><text y="4.06" font-size="12.30" text-anchor="middle" fill="#111" stroke="#111" stroke-width="0.15">Diabetes</text></g>
<line x1="254.28" y1="1029.50" x2="254.28" y2="1036.00" stroke="#111" stroke-width="1.30"/>
<line x1="112.20" y1="734.88" x2="118.70" y2="734.88" stroke="#111" stroke-width="1.30"/>
<text transform="translate(105.80,738.66) scale(1.1000,1)" font-size="11.60" fill="#111" text-anchor="end" stroke="#111" stroke-width="0.15">Glaucoma</text>
<g transform="translate(253.48,1059.66) scale(1,1.000) rotate(-30)"><text y="4.06" font-size="12.30" text-anchor="middle" fill="#111" stroke="#111" stroke-width="0.15">Glaucoma</text></g>
<line x1="308.07" y1="1029.50" x2="308.07" y2="1036.00" stroke="#111" stroke-width="1.30"/>
<line x1="112.20" y1="788.52" x2="118.70" y2="788.52" stroke="#111" stroke-width="1.30"/>
<text transform="translate(105.80,792.30) scale(1.1000,1)" font-size="11.60" fill="#111" text-anchor="end" stroke="#111" stroke-width="0.15">Cataract</text>
<g transform="translate(307.27,1057.27) scale(1,1.000) rotate(-30)"><text y="4.06" font-size="12.30" text-anchor="middle" fill="#111" stroke="#111" stroke-width="0.15">Cataract</text></g>
<line x1="361.86" y1="1029.50" x2="361.86" y2="1036.00" stroke="#111" stroke-width="1.30"/>
<line x1="112.20" y1="842.16" x2="118.70" y2="842.16" stroke="#111" stroke-width="1.30"/>
<text transform="translate(105.80,845.94) scale(1.1000,1)" font-size="11.60" fill="#111" text-anchor="end" stroke="#111" stroke-width="0.15">AMD</text>
<g transform="translate(361.06,1054.20) scale(1,1.000) rotate(-30)"><text y="4.06" font-size="12.30" text-anchor="middle" fill="#111" stroke="#111" stroke-width="0.15">AMD</text></g>
<line x1="415.65" y1="1029.50" x2="415.65" y2="1036.00" stroke="#111" stroke-width="1.30"/>
<line x1="112.20" y1="895.80" x2="118.70" y2="895.80" stroke="#111" stroke-width="1.30"/>
<text transform="translate(105.80,899.58) scale(1.1000,1)" font-size="11.60" fill="#111" text-anchor="end" stroke="#111" stroke-width="0.15">Hypertension</text>
<g transform="translate(414.85,1064.65) scale(1,1.000) rotate(-30)"><text y="2.71" font-size="12.30" text-anchor="middle" fill="#111" stroke="#111" stroke-width="0.15">Hypertension</text></g>
<line x1="469.44" y1="1029.50" x2="469.44" y2="1036.00" stroke="#111" stroke-width="1.30"/>
<line x1="112.20" y1="949.44" x2="118.70" y2="949.44" stroke="#111" stroke-width="1.30"/>
<text transform="translate(105.80,953.22) scale(1.1000,1)" font-size="11.60" fill="#111" text-anchor="end" stroke="#111" stroke-width="0.15">Myopia</text>
<g transform="translate(468.64,1057.65) scale(1,1.000) rotate(-30)"><text y="2.71" font-size="12.30" text-anchor="middle" fill="#111" stroke="#111" stroke-width="0.15">Myopia</text></g>
<line x1="523.23" y1="1029.50" x2="523.23" y2="1036.00" stroke="#111" stroke-width="1.30"/>
<line x1="112.20" y1="1003.08" x2="118.70" y2="1003.08" stroke="#111" stroke-width="1.30"/>
<text transform="translate(105.80,1006.86) scale(1.1000,1)" font-size="11.60" fill="#111" text-anchor="end" stroke="#111" stroke-width="0.15">Others</text>
<g transform="translate(522.43,1055.22) scale(1,1.000) rotate(-30)"><text y="4.06" font-size="12.30" text-anchor="middle" fill="#111" stroke="#111" stroke-width="0.15">Others</text></g>
<text transform="translate(237.50,587.80)" font-size="19.00" fill="#111" stroke="#111" stroke-width="0.15" textLength="90.30" lengthAdjust="spacingAndGlyphs">ResNet50</text>
<text transform="translate(335.20,587.80)" font-size="19.00" fill="#111" stroke="#111" stroke-width="0.15" textLength="95.80" lengthAdjust="spacingAndGlyphs">prediction</text>
<text transform="translate(275.80,1111.10)" font-size="20.00" fill="#111" stroke="#111" stroke-width="0.15" textLength="117.90" lengthAdjust="spacingAndGlyphs">Predict label</text>
<text transform="translate(23.30,864.90) rotate(-90)" font-size="25.00" fill="#111" stroke="#111" stroke-width="0.15" textLength="96.80" lengthAdjust="spacingAndGlyphs">True label</text>
<rect x="586.30" y="599.30" width="21.80" height="430.30" fill="url(#cbg)" stroke="#111" stroke-width="1.40"/>
<line x1="608.10" y1="1029.60" x2="614.60" y2="1029.60" stroke="#111" stroke-width="1.30"/>
<text transform="translate(620.10,1034.10) scale(0.9700,1)" font-size="15.80" fill="#111" stroke="#111" stroke-width="0.15">0.0</text>
<line x1="608.10" y1="936.30" x2="614.60" y2="936.30" stroke="#111" stroke-width="1.30"/>
<text transform="translate(620.10,940.80) scale(0.9700,1)" font-size="15.80" fill="#111" stroke="#111" stroke-width="0.15">0.2</text>
<line x1="608.10" y1="843.00" x2="614.60" y2="843.00" stroke="#111" stroke-width="1.30"/>
<text transform="translate(620.10,847.50) scale(0.9700,1)" font-size="15.80" fill="#111" stroke="#111" stroke-width="0.15">0.4</text>
<line x1="608.10" y1="749.70" x2="614.60" y2="749.70" stroke="#111" stroke-width="1.30"/>
<text transform="translate(620.10,754.20) scale(0.9700,1)" font-size="15.80" fill="#111" stroke="#111" stroke-width="0.15">0.6</text>
<line x1="608.10" y1="656.40" x2="614.60" y2="656.40" stroke="#111" stroke-width="1.30"/>
<text transform="translate(620.10,660.90) scale(0.9700,1)" font-size="15.80" fill="#111" stroke="#111" stroke-width="0.15">0.8</text>
<g>
<rect x="116.40" y="1169.70" width="52.90" height="52.20" fill="#3e8ec4"/>
<rect x="168.80" y="1169.70" width="55.30" height="52.20" fill="#d8e7f5"/>
<rect x="223.60" y="1169.70" width="55.30" height="52.20" fill="#eff6fc"/>
<rect x="278.40" y="1169.70" width="55.30" height="52.20" fill="#f7fbff"/>
<rect x="333.20" y="1169.70" width="55.30" height="52.20" fill="#f3f8fe"/>
<rect x="388.00" y="1169.70" width="55.30" height="52.20" fill="#e7f1fa"/>
<rect x="442.80" y="1169.70" width="55.30" height="52.20" fill="#f7fbff"/>
<rect x="497.60" y="1169.70" width="56.30" height="52.20" fill="#ebf3fb"/>
<rect x="116.40" y="1221.40" width="52.90" height="55.40" fill="#ebf3fb"/>
<rect x="168.80" y="1221.40" width="55.30" height="55.40" fill="#1f6eb3"/>
<rect x="223.60" y="1221.40" width="55.30" height="55.40" fill="#f3f8fe"/>
<rect x="278.40" y="1221.40" width="55.30" height="55.40" fill="#f7fbff"/>
<rect x="333.20" y="1221.40" width="55.30" height="55.40" fill="#eff6fc"/>
<rect x="388.00" y="1221.40" width="55.30" height="55.40" fill="#f7fbff"/>
<rect x="442.80" y="1221.40" width="55.30" height="55.40" fill="#f7fbff"/>
<rect x="497.60" y="1221.40" width="56.30" height="55.40" fill="#dfecf7"/>
<rect x="116.40" y="1276.30" width="52.90" height="55.40" fill="#dfecf7"/>
<rect x="168.80" y="1276.30" width="55.30" height="55.40" fill="#f3f8fe"/>
<rect x="223.60" y="1276.30" width="55.30" height="55.40" fill="#135fa7"/>
<rect x="278.40" y="1276.30" width="55.30" height="55.40" fill="#f7fbff"/>
<rect x="333.20" y="1276.30" width="55.30" height="55.40" fill="#f3f8fe"/>
<rect x="388.00" y="1276.30" width="55.30" height="55.40" fill="#f3f8fe"/>
<rect x="442.80" y="1276.30" width="55.30" height="55.40" fill="#f7fbff"/>
<rect x="497.60" y="1276.30" width="56.30" height="55.40" fill="#f7fbff"/>
<rect x="116.40" y="1331.20" width="52.90" height="55.30" fill="#eff6fc"/>
<rect x="168.80" y="1331.20" width="55.30" height="55.30" fill="#f3f8fe"/>
<rect x="223.60" y="1331.20" width="55.30" height="55.30" fill="#f3f8fe"/>
<rect x="278.40" y="1331.20" width="55.30" height="55.30" fill="#084a91"/>
<rect x="333.20" y="1331.20" width="55.30" height="55.30" fill="#f7fbff"/>
<rect x="388.00" y="1331.20" width="55.30" height="55.30" fill="#f3f8fe"/>
<rect x="442.80" y="1331.20" width="55.30" height="55.30" fill="#f7fbff"/>
<rect x="497.60" y="1331.20" width="56.30" height="55.30" fill="#f7fbff"/>
<rect x="116.40" y="1386.00" width="52.90" height="55.00" fill="#ebf3fb"/>
<rect x="168.80" y="1386.00" width="55.30" height="55.00" fill="#eff6fc"/>
<rect x="223.60" y="1386.00" width="55.30" height="55.00" fill="#f7fbff"/>
<rect x="278.40" y="1386.00" width="55.30" height="55.00" fill="#f7fbff"/>
<rect x="333.20" y="1386.00" width="55.30" height="55.00" fill="#084f99"/>
<rect x="388.00" y="1386.00" width="55.30" height="55.00" fill="#f3f8fe"/>
<rect x="442.80" y="1386.00" width="55.30" height="55.00" fill="#f7fbff"/>
<rect x="497.60" y="1386.00" width="56.30" height="55.00" fill="#f7fbff"/>
<rect x="116.40" y="1440.50" width="52.90" height="55.00" fill="#f7fbff"/>
<rect x="168.80" y="1440.50" width="55.30" height="55.00" fill="#f7fbff"/>
<rect x="223.60" y="1440.50" width="55.30" height="55.00" fill="#f7fbff"/>
<rect x="278.40" y="1440.50" width="55.30" height="55.00" fill="#f7fbff"/>
<rect x="333.20" y="1440.50" width="55.30" height="55.00" fill="#f7fbff"/>
<rect x="388.00" y="1440.50" width="55.30" height="55.00" fill="#08306b"/>
<rect x="442.80" y="1440.50" width="55.30" height="55.00" fill="#f7fbff"/>
<rect x="497.60" y="1440.50" width="56.30" height="55.00" fill="#f7fbff"/>
<rect x="116.40" y="1495.00" width="52.90" height="55.20" fill="#f3f8fe"/>
<rect x="168.80" y="1495.00" width="55.30" height="55.20" fill="#f7fbff"/>
<rect x="223.60" y="1495.00" width="55.30" height="55.20" fill="#f7fbff"/>
<rect x="278.40" y="1495.00" width="55.30" height="55.20" fill="#f7fbff"/>
<rect x="333.20" y="1495.00" width="55.30" height="55.20" fill="#f7fbff"/>
<rect x="388.00" y="1495.00" width="55.30" height="55.20" fill="#f7fbff"/>
<rect x="442.80" y="1495.00" width="55.30" height="55.20" fill="#083573"/>
<rect x="497.60" y="1495.00" width="56.30" height="55.20" fill="#f7fbff"/>
<rect x="116.40" y="1549.70" width="52.90" height="56.30" fill="#a9cfe5"/>
<rect x="168.80" y="1549.70" width="55.30" height="56.30" fill="#d3e4f3"/>
<rect x="223.60" y="1549.70" width="55.30" height="56.30" fill="#eff6fc"/>
<rect x="278.40" y="1549.70" width="55.30" height="56.30" fill="#f7fbff"/>
<rect x="333.20" y="1549.70" width="55.30" height="56.30" fill="#f3f8fe"/>
<rect x="388.00" y="1549.70" width="55.30" height="56.30" fill="#e7f1fa"/>
<rect x="442.80" y="1549.70" width="55.30" height="56.30" fill="#f7fbff"/>
<rect x="497.60" y="1549.70" width="56.30" height="56.30" fill="#a9cfe5"/>
</g>
<rect x="116.40" y="1169.70" width="437.00" height="435.80" fill="none" stroke="#111" stroke-width="1.40"/>
<text transform="translate(144.30,1201.20) scale(0.9700,1)" font-size="20.50" fill="#fff" text-anchor="middle" stroke="#fff" stroke-width="0.15">32</text>
<text transform="translate(198.70,1201.20) scale(0.9700,1)" font-size="20.50" fill="#111" text-anchor="middle" stroke="#111" stroke-width="0.15">8</text>
<text transform="translate(253.10,1201.20) scale(0.9700,1)" font-size="20.50" fill="#111" text-anchor="middle" stroke="#111" stroke-width="0.15">2</text>
<text transform="translate(307.50,1201.20) scale(0.9700,1)" font-size="20.50" fill="#111" text-anchor="middle" stroke="#111" stroke-width="0.15">0</text>
<text transform="translate(361.90,1201.20) scale(0.9700,1)" font-size="20.50" fill="#111" text-anchor="middle" stroke="#111" stroke-width="0.15">1</text>
<text transform="translate(416.30,1201.20) scale(0.9700,1)" font-size="20.50" fill="#111" text-anchor="middle" stroke="#111" stroke-width="0.15">4</text>
<text transform="translate(470.70,1201.20) scale(0.9700,1)" font-size="20.50" fill="#111" text-anchor="middle" stroke="#111" stroke-width="0.15">0</text>
<text transform="translate(525.10,1201.20) scale(0.9700,1)" font-size="20.50" fill="#111" text-anchor="middle" stroke="#111" stroke-width="0.15">3</text>
<text transform="translate(144.30,1255.76) scale(0.9700,1)" font-size="20.50" fill="#111" text-anchor="middle" stroke="#111" stroke-width="0.15">3</text>
<text transform="translate(198.70,1255.76) scale(0.9700,1)" font-size="20.50" fill="#fff" text-anchor="middle" stroke="#fff" stroke-width="0.15">38</text>
<text transform="translate(253.10,1255.76) scale(0.9700,1)" font-size="20.50" fill="#111" text-anchor="middle" stroke="#111" stroke-width="0.15">1</text>
<text transform="translate(307.50,1255.76) scale(0.9700,1)" font-size="20.50" fill="#111" text-anchor="middle" stroke="#111" stroke-width="0.15">0</text>
<text transform="translate(361.90,1255.76) scale(0.9700,1)" font-size="20.50" fill="#111" text-anchor="middle" stroke="#111" stroke-width="0.15">2</text>
<text transform="translate(416.30,1255.76) scale(0.9700,1)" font-size="20.50" fill="#111" text-anchor="middle" stroke="#111" stroke-width="0.15">0</text>
<text transform="translate(470.70,1255.76) scale(0.9700,1)" font-size="20.50" fill="#111" text-anchor="middle" stroke="#111" stroke-width="0.15">0</text>
<text transform="translate(525.10,1255.76) scale(0.9700,1)" font-size="20.50" fill="#111" text-anchor="middle" stroke="#111" stroke-width="0.15">6</text>
<text transform="translate(144.30,1310.32) scale(0.9700,1)" font-size="20.50" fill="#111" text-anchor="middle" stroke="#111" stroke-width="0.15">6</text>
<text transform="translate(198.70,1310.32) scale(0.9700,1)" font-size="20.50" fill="#111" text-anchor="middle" stroke="#111" stroke-width="0.15">1</text>
<text transform="translate(253.10,1310.32) scale(0.9700,1)" font-size="20.50" fill="#fff" text-anchor="middle" stroke="#fff" stroke-width="0.15">41</text>
<text transform="translate(307.50,1310.32) scale(0.9700,1)" font-size="20.50" fill="#111" text-anchor="middle" stroke="#111" stroke-width="0.15">0</text>
<text transform="translate(361.90,1310.32) scale(0.9700,1)" font-size="20.50" fill="#111" text-anchor="middle" stroke="#111" stroke-width="0.15">1</text>
<text transform="translate(416.30,1310.32) scale(0.9700,1)" font-size="20.50" fill="#111" text-anchor="middle" stroke="#111" stroke-width="0.15">1</text>
<text transform="translate(470.70,1310.32) scale(0.9700,1)" font-size="20.50" fill="#111" text-anchor="middle" stroke="#111" stroke-width="0.15">0</text>
<text transform="translate(525.10,1310.32) scale(0.9700,1)" font-size="20.50" fill="#111" text-anchor="middle" stroke="#111" stroke-width="0.15">0</text>
<text transform="translate(144.30,1364.88) scale(0.9700,1)" font-size="20.50" fill="#111" text-anchor="middle" stroke="#111" stroke-width="0.15">2</text>
<text transform="translate(198.70,1364.88) scale(0.9700,1)" font-size="20.50" fill="#111" text-anchor="middle" stroke="#111" stroke-width="0.15">1</text>
<text transform="translate(253.10,1364.88) scale(0.9700,1)" font-size="20.50" fill="#111" text-anchor="middle" stroke="#111" stroke-width="0.15">1</text>
<text transform="translate(307.50,1364.88) scale(0.9700,1)" font-size="20.50" fill="#fff" text-anchor="middle" stroke="#fff" stroke-width="0.15">45</text>
<text transform="translate(361.90,1364.88) scale(0.9700,1)" font-size="20.50" fill="#111" text-anchor="middle" stroke="#111" stroke-width="0.15">0</text>
<text transform="translate(416.30,1364.88) scale(0.9700,1)" font-size="20.50" fill="#111" text-anchor="middle" stroke="#111" stroke-width="0.15">1</text>
<text transform="translate(470.70,1364.88) scale(0.9700,1)" font-size="20.50" fill="#111" text-anchor="middle" stroke="#111" stroke-width="0.15">0</text>
<text transform="translate(525.10,1364.88) scale(0.9700,1)" font-size="20.50" fill="#111" text-anchor="middle" stroke="#111" stroke-width="0.15">0</text>
<text transform="translate(144.30,1419.44) scale(0.9700,1)" font-size="20.50" fill="#111" text-anchor="middle" stroke="#111" stroke-width="0.15">3</text>
<text transform="translate(198.70,1419.44) scale(0.9700,1)" font-size="20.50" fill="#111" text-anchor="middle" stroke="#111" stroke-width="0.15">2</text>
<text transform="translate(253.10,1419.44) scale(0.9700,1)" font-size="20.50" fill="#111" text-anchor="middle" stroke="#111" stroke-width="0.15">0</text>
<text transform="translate(307.50,1419.44) scale(0.9700,1)" font-size="20.50" fill="#111" text-anchor="middle" stroke="#111" stroke-width="0.15">0</text>
<text transform="translate(361.90,1419.44) scale(0.9700,1)" font-size="20.50" fill="#fff" text-anchor="middle" stroke="#fff" stroke-width="0.15">44</text>
<text transform="translate(416.30,1419.44) scale(0.9700,1)" font-size="20.50" fill="#111" text-anchor="middle" stroke="#111" stroke-width="0.15">1</text>
<text transform="translate(470.70,1419.44) scale(0.9700,1)" font-size="20.50" fill="#111" text-anchor="middle" stroke="#111" stroke-width="0.15">0</text>
<text transform="translate(525.10,1419.44) scale(0.9700,1)" font-size="20.50" fill="#111" text-anchor="middle" stroke="#111" stroke-width="0.15">0</text>
<text transform="translate(144.30,1474.00) scale(0.9700,1)" font-size="20.50" fill="#111" text-anchor="middle" stroke="#111" stroke-width="0.15">0</text>
<text transform="translate(198.70,1474.00) scale(0.9700,1)" font-size="20.50" fill="#111" text-anchor="middle" stroke="#111" stroke-width="0.15">0</text>
<text transform="translate(253.10,1474.00) scale(0.9700,1)" font-size="20.50" fill="#111" text-anchor="middle" stroke="#111" stroke-width="0.15">0</text>
<text transform="translate(307.50,1474.00) scale(0.9700,1)" font-size="20.50" fill="#111" text-anchor="middle" stroke="#111" stroke-width="0.15">0</text>
<text transform="translate(361.90,1474.00) scale(0.9700,1)" font-size="20.50" fill="#111" text-anchor="middle" stroke="#111" stroke-width="0.15">0</text>
<text transform="translate(416.30,1474.00) scale(0.9700,1)" font-size="20.50" fill="#fff" text-anchor="middle" stroke="#fff" stroke-width="0.15">50</text>
<text transform="translate(470.70,1474.00) scale(0.9700,1)" font-size="20.50" fill="#111" text-anchor="middle" stroke="#111" stroke-width="0.15">0</text>
<text transform="translate(525.10,1474.00) scale(0.9700,1)" font-size="20.50" fill="#111" text-anchor="middle" stroke="#111" stroke-width="0.15">0</text>
<text transform="translate(144.30,1528.56) scale(0.9700,1)" font-size="20.50" fill="#111" text-anchor="middle" stroke="#111" stroke-width="0.15">1</text>
<text transform="translate(198.70,1528.56) scale(0.9700,1)" font-size="20.50" fill="#111" text-anchor="middle" stroke="#111" stroke-width="0.15">0</text>
<text transform="translate(253.10,1528.56) scale(0.9700,1)" font-size="20.50" fill="#111" text-anchor="middle" stroke="#111" stroke-width="0.15">0</text>
<text transform="translate(307.50,1528.56) scale(0.9700,1)" font-size="20.50" fill="#111" text-anchor="middle" stroke="#111" stroke-width="0.15">0</text>
<text transform="translate(361.90,1528.56) scale(0.9700,1)" font-size="20.50" fill="#111" text-anchor="middle" stroke="#111" stroke-width="0.15">0</text>
<text transform="translate(416.30,1528.56) scale(0.9700,1)" font-size="20.50" fill="#111" text-anchor="middle" stroke="#111" stroke-width="0.15">0</text>
<text transform="translate(470.70,1528.56) scale(0.9700,1)" font-size="20.50" fill="#fff" text-anchor="middle" stroke="#fff" stroke-width="0.15">49</text>
<text transform="translate(525.10,1528.56) scale(0.9700,1)" font-size="20.50" fill="#111" text-anchor="middle" stroke="#111" stroke-width="0.15">0</text>
<text transform="translate(144.30,1583.12) scale(0.9700,1)" font-size="20.50" fill="#111" text-anchor="middle" stroke="#111" stroke-width="0.15">17</text>
<text transform="translate(198.70,1583.12) scale(0.9700,1)" font-size="20.50" fill="#111" text-anchor="middle" stroke="#111" stroke-width="0.15">9</text>
<text transform="translate(253.10,1583.12) scale(0.9700,1)" font-size="20.50" fill="#111" text-anchor="middle" stroke="#111" stroke-width="0.15">2</text>
<text transform="translate(307.50,1583.12) scale(0.9700,1)" font-size="20.50" fill="#111" text-anchor="middle" stroke="#111" stroke-width="0.15">0</text>
<text transform="translate(361.90,1583.12) scale(0.9700,1)" font-size="20.50" fill="#111" text-anchor="middle" stroke="#111" stroke-width="0.15">1</text>
<text transform="translate(416.30,1583.12) scale(0.9700,1)" font-size="20.50" fill="#111" text-anchor="middle" stroke="#111" stroke-width="0.15">4</text>
<text transform="translate(470.70,1583.12) scale(0.9700,1)" font-size="20.50" fill="#111" text-anchor="middle" stroke="#111" stroke-width="0.15">0</text>
<text transform="translate(525.10,1583.12) scale(0.9700,1)" font-size="20.50" fill="#fff" text-anchor="middle" stroke="#fff" stroke-width="0.15">17</text>
<line x1="144.90" y1="1605.50" x2="144.90" y2="1612.00" stroke="#111" stroke-width="1.30"/>
<line x1="109.90" y1="1196.80" x2="116.40" y2="1196.80" stroke="#111" stroke-width="1.30"/>
<text transform="translate(103.50,1200.58) scale(1.1000,1)" font-size="11.95" fill="#111" text-anchor="end" stroke="#111" stroke-width="0.15">Normal</text>
<g transform="translate(144.10,1632.81) scale(1,1.000) rotate(-30)"><text y="4.18" font-size="12.67" text-anchor="middle" fill="#111" stroke="#111" stroke-width="0.15">Normal</text></g>
<line x1="199.30" y1="1605.50" x2="199.30" y2="1612.00" stroke="#111" stroke-width="1.30"/>
<line x1="109.90" y1="1251.36" x2="116.40" y2="1251.36" stroke="#111" stroke-width="1.30"/>
<text transform="translate(103.50,1255.14) scale(1.1000,1)" font-size="11.95" fill="#111" text-anchor="end" stroke="#111" stroke-width="0.15">Diabetes</text>
<g transform="translate(198.50,1634.21) scale(1,1.000) rotate(-30)"><text y="4.18" font-size="12.67" text-anchor="middle" fill="#111" stroke="#111" stroke-width="0.15">Diabetes</text></g>
<line x1="253.70" y1="1605.50" x2="253.70" y2="1612.00" stroke="#111" stroke-width="1.30"/>
<line x1="109.90" y1="1305.92" x2="116.40" y2="1305.92" stroke="#111" stroke-width="1.30"/>
<text transform="translate(103.50,1309.70) scale(1.1000,1)" font-size="11.95" fill="#111" text-anchor="end" stroke="#111" stroke-width="0.15">Glaucoma</text>
<g transform="translate(252.90,1636.15) scale(1,1.000) rotate(-30)"><text y="4.18" font-size="12.67" text-anchor="middle" fill="#111" stroke="#111" stroke-width="0.15">Glaucoma</text></g>
<line x1="308.10" y1="1605.50" x2="308.10" y2="1612.00" stroke="#111" stroke-width="1.30"/>
<line x1="109.90" y1="1360.48" x2="116.40" y2="1360.48" stroke="#111" stroke-width="1.30"/>
<text transform="translate(103.50,1364.26) scale(1.1000,1)" font-size="11.95" fill="#111" text-anchor="end" stroke="#111" stroke-width="0.15">Cataract</text>
<g transform="translate(307.30,1633.68) scale(1,1.000) rotate(-30)"><text y="4.18" font-size="12.67" text-anchor="middle" fill="#111" stroke="#111" stroke-width="0.15">Cataract</text></g>
<line x1="362.50" y1="1605.50" x2="362.50" y2="1612.00" stroke="#111" stroke-width="1.30"/>
<line x1="109.90" y1="1415.04" x2="116.40" y2="1415.04" stroke="#111" stroke-width="1.30"/>
<text transform="translate(103.50,1418.82) scale(1.1000,1)" font-size="11.95" fill="#111" text-anchor="end" stroke="#111" stroke-width="0.15">AMD</text>
<g transform="translate(361.70,1630.52) scale(1,1.000) rotate(-30)"><text y="4.18" font-size="12.67" text-anchor="middle" fill="#111" stroke="#111" stroke-width="0.15">AMD</text></g>
<line x1="416.90" y1="1605.50" x2="416.90" y2="1612.00" stroke="#111" stroke-width="1.30"/>
<line x1="109.90" y1="1469.60" x2="116.40" y2="1469.60" stroke="#111" stroke-width="1.30"/>
<text transform="translate(103.50,1473.38) scale(1.1000,1)" font-size="11.95" fill="#111" text-anchor="end" stroke="#111" stroke-width="0.15">Hypertension</text>
<g transform="translate(416.10,1641.29) scale(1,1.000) rotate(-30)"><text y="2.79" font-size="12.67" text-anchor="middle" fill="#111" stroke="#111" stroke-width="0.15">Hypertension</text></g>
<line x1="471.30" y1="1605.50" x2="471.30" y2="1612.00" stroke="#111" stroke-width="1.30"/>
<line x1="109.90" y1="1524.16" x2="116.40" y2="1524.16" stroke="#111" stroke-width="1.30"/>
<text transform="translate(103.50,1527.94) scale(1.1000,1)" font-size="11.95" fill="#111" text-anchor="end" stroke="#111" stroke-width="0.15">Myopia</text>
<g transform="translate(470.50,1634.08) scale(1,1.000) rotate(-30)"><text y="2.79" font-size="12.67" text-anchor="middle" fill="#111" stroke="#111" stroke-width="0.15">Myopia</text></g>
<line x1="525.70" y1="1605.50" x2="525.70" y2="1612.00" stroke="#111" stroke-width="1.30"/>
<line x1="109.90" y1="1578.72" x2="116.40" y2="1578.72" stroke="#111" stroke-width="1.30"/>
<text transform="translate(103.50,1582.50) scale(1.1000,1)" font-size="11.95" fill="#111" text-anchor="end" stroke="#111" stroke-width="0.15">Others</text>
<g transform="translate(524.90,1631.57) scale(1,1.000) rotate(-30)"><text y="4.18" font-size="12.67" text-anchor="middle" fill="#111" stroke="#111" stroke-width="0.15">Others</text></g>
<text transform="translate(235.50,1158.50)" font-size="20.80" fill="#111" stroke="#111" stroke-width="0.15" textLength="96.10" lengthAdjust="spacingAndGlyphs">MBSaNet</text>
<text transform="translate(339.00,1158.50)" font-size="20.80" fill="#111" stroke="#111" stroke-width="0.15" textLength="95.30" lengthAdjust="spacingAndGlyphs">prediction</text>
<text transform="translate(275.80,1687.20)" font-size="20.00" fill="#111" stroke="#111" stroke-width="0.15" textLength="118.60" lengthAdjust="spacingAndGlyphs">Predict label</text>
<text transform="translate(18.10,1436.70) rotate(-90)" font-size="23.20" fill="#111" stroke="#111" stroke-width="0.15" textLength="94.80" lengthAdjust="spacingAndGlyphs">True label</text>
<rect x="589.80" y="1169.60" width="22.40" height="435.90" fill="url(#cbg)" stroke="#111" stroke-width="1.40"/>
<line x1="612.20" y1="1605.50" x2="618.70" y2="1605.50" stroke="#111" stroke-width="1.30"/>
<text transform="translate(624.20,1610.00) scale(0.9700,1)" font-size="16.27" fill="#111" stroke="#111" stroke-width="0.15">0.0</text>
<line x1="612.20" y1="1518.30" x2="618.70" y2="1518.30" stroke="#111" stroke-width="1.30"/>
<text transform="translate(624.20,1522.80) scale(0.9700,1)" font-size="16.27" fill="#111" stroke="#111" stroke-width="0.15">0.2</text>
<line x1="612.20" y1="1431.10" x2="618.70" y2="1431.10" stroke="#111" stroke-width="1.30"/>
<text transform="translate(624.20,1435.60) scale(0.9700,1)" font-size="16.27" fill="#111" stroke="#111" stroke-width="0.15">0.4</text>
<line x1="612.20" y1="1343.90" x2="618.70" y2="1343.90" stroke="#111" stroke-width="1.30"/>
<text transform="translate(624.20,1348.40) scale(0.9700,1)" font-size="16.27" fill="#111" stroke="#111" stroke-width="0.15">0.6</text>
<line x1="612.20" y1="1256.70" x2="618.70" y2="1256.70" stroke="#111" stroke-width="1.30"/>
<text transform="translate(624.20,1261.20) scale(0.9700,1)" font-size="16.27" fill="#111" stroke="#111" stroke-width="0.15">0.8</text>
<line x1="612.20" y1="1169.50" x2="618.70" y2="1169.50" stroke="#111" stroke-width="1.30"/>
<text transform="translate(624.20,1174.00) scale(0.9700,1)" font-size="16.27" fill="#111" stroke="#111" stroke-width="0.15">1.0</text>
</svg>
</body></html>
